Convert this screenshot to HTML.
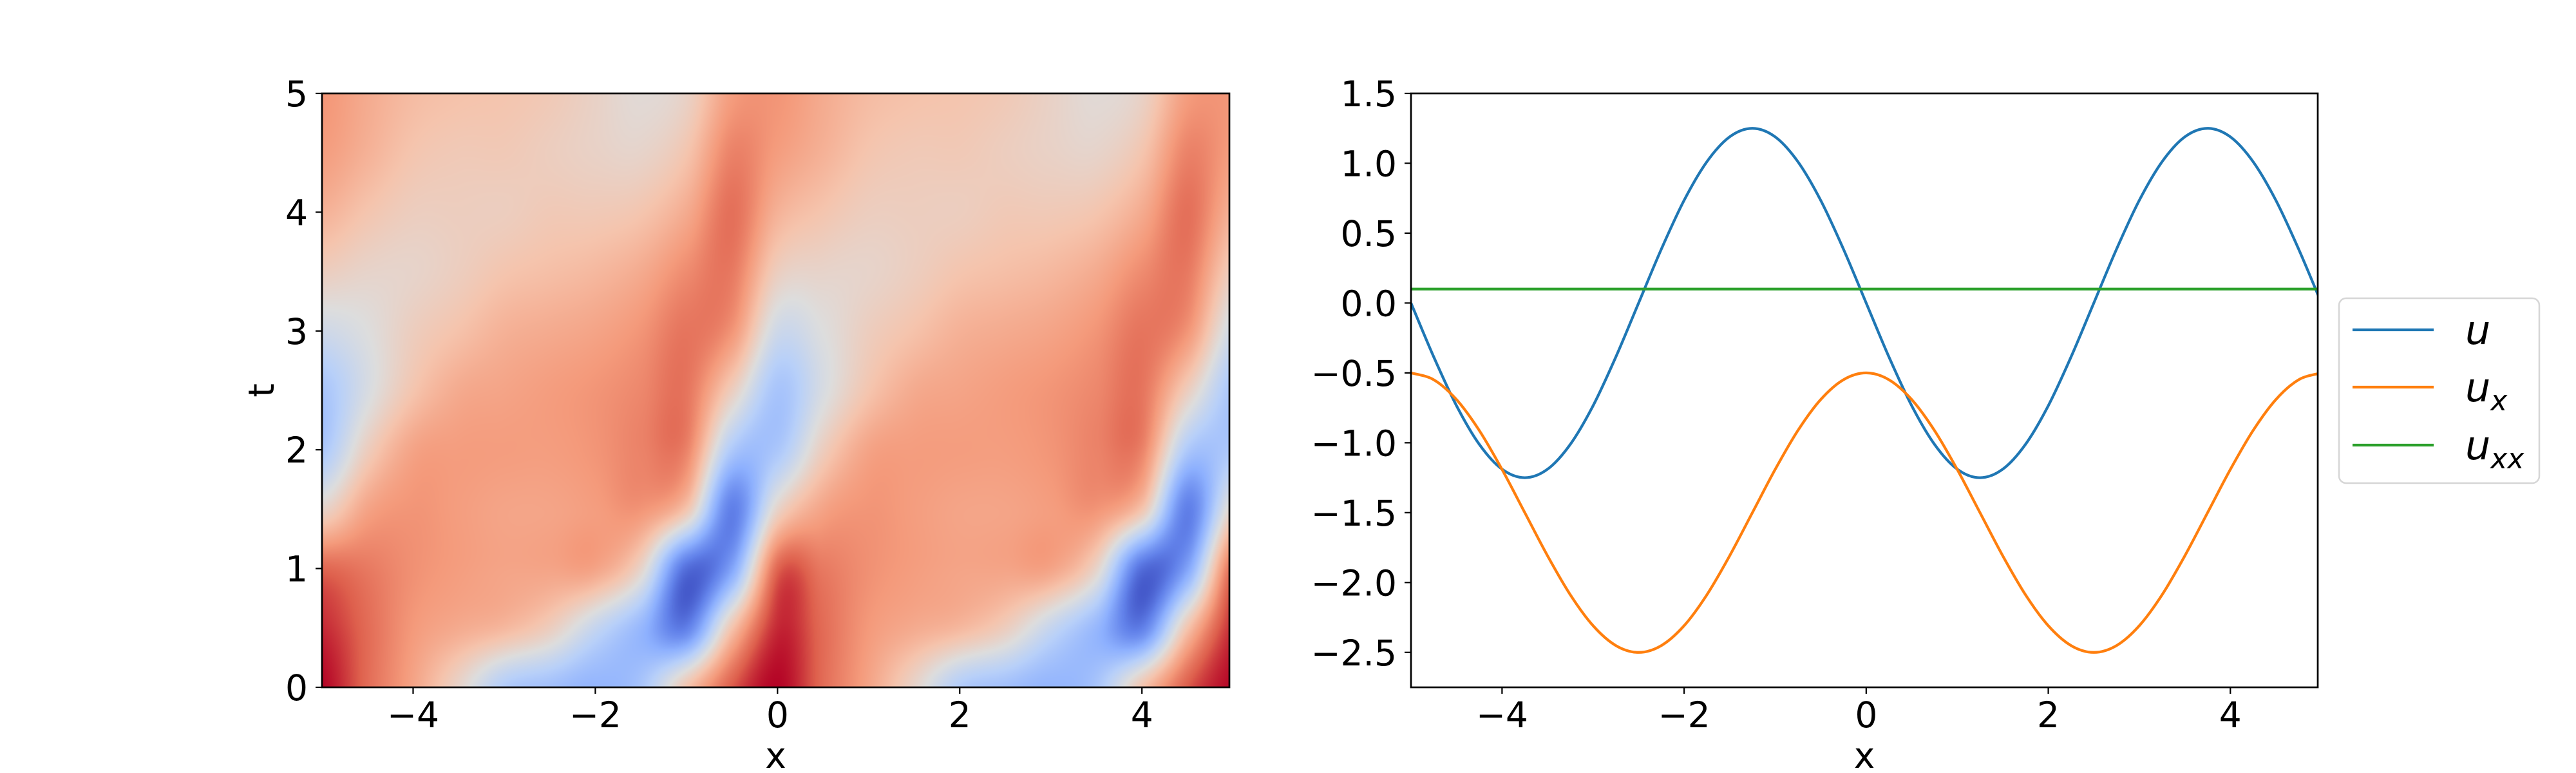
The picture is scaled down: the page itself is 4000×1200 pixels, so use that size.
<!DOCTYPE html>
<html><head><meta charset="utf-8"><style>
html,body{margin:0;padding:0;background:#fff;}
#wrap{position:relative;width:4000px;height:1200px;overflow:hidden;font-family:"DejaVu Sans","Liberation Sans",sans-serif;}
canvas{position:absolute;}
svg{position:absolute;left:0;top:0;}
</style></head><body>
<div id="wrap">
<canvas id="heat" width="1409" height="922" style="left:500px;top:145px"></canvas>
<svg id="svg" width="4000" height="1200"></svg>
</div>
<script>
// ---------- DATA ----------
const heatX = [-5,-4.5,-4,-3.5,-3,-2.5,-2,-1.5,-1,-0.5,0,0.5,1,1.5,2,2.5,3,3.5,4,4.5,5];
const heatT = [0,0.5,1,1.5,2,2.5,3,3.5,4,4.5,5];
const heatRow0  = [1.0,.85,.72,.55,.36,.31,.27,.33,.62,.88,1.0,.85,.72,.55,.36,.31,.27,.33,.62,.88,1.0];
const heatRow1  = [.95,.85,.75,.70,.66,.58,.42,.28,.12,.62,.95,.85,.75,.70,.66,.58,.42,.28,.12,.62,.95];
const heatRow2  = [.86,.82,.77,.74,.72,.72,.72,.55,.08,.22,.86,.82,.77,.74,.72,.72,.72,.55,.08,.22,.86];
const heatRow3  = [.55,.72,.76,.74,.72,.72,.74,.76,.62,.12,.55,.72,.76,.74,.72,.72,.74,.76,.62,.12,.55];
const heatRow4  = [.34,.58,.72,.74,.74,.74,.76,.80,.80,.35,.34,.58,.72,.74,.74,.74,.76,.80,.80,.35,.34];
const heatRow5  = [.33,.48,.62,.70,.72,.74,.76,.79,.83,.58,.33,.48,.62,.70,.72,.74,.76,.79,.83,.58,.33];
const heatRow6  = [.45,.50,.58,.63,.68,.70,.72,.76,.83,.76,.45,.50,.58,.63,.68,.70,.72,.76,.83,.76,.45];
const heatRow7  = [.58,.55,.55,.58,.62,.64,.66,.70,.78,.82,.58,.55,.55,.58,.62,.64,.66,.70,.78,.82,.58];
const heatRow8  = [.68,.62,.58,.58,.58,.60,.60,.62,.70,.84,.68,.62,.58,.58,.58,.60,.60,.62,.70,.84,.68];
const heatRow9  = [.74,.68,.62,.60,.60,.58,.56,.55,.62,.80,.74,.68,.62,.60,.60,.58,.56,.55,.62,.80,.74];
const heatRow10 = [.76,.70,.65,.63,.62,.60,.56,.52,.56,.74,.76,.70,.65,.63,.62,.60,.56,.52,.56,.74,.76];
const heatRows = [heatRow0,heatRow1,heatRow2,heatRow3,heatRow4,heatRow5,heatRow6,heatRow7,heatRow8,heatRow9,heatRow10];

const lineX = [-5,-4.75,-4.5,-4.25,-4,-3.75,-3.5,-3.25,-3,-2.75,-2.5,-2.25,-2,-1.75,-1.5,-1.25,-1,-0.75,-0.5,-0.25,0,0.25,0.5,0.75,1,1.25,1.5,1.75,2,2.25,2.5,2.75,3,3.25,3.5,3.75,4,4.25,4.5,4.75,5];
const seriesU = [0,-.386,-.735,-1.011,-1.189,-1.25,-1.189,-1.011,-.735,-.386,0,.386,.735,1.011,1.189,1.25,1.189,1.011,.735,.386,0,-.386,-.735,-1.011,-1.189,-1.25,-1.189,-1.011,-.735,-.386,0,.386,.735,1.011,1.189,1.25,1.189,1.011,.735,.386,0];
const seriesUx = [-.5,-.549,-.691,-.912,-1.191,-1.5,-1.809,-2.088,-2.309,-2.451,-2.5,-2.451,-2.309,-2.088,-1.809,-1.5,-1.191,-.912,-.691,-.549,-.5,-.549,-.691,-.912,-1.191,-1.5,-1.809,-2.088,-2.309,-2.451,-2.5,-2.451,-2.309,-2.088,-1.809,-1.5,-1.191,-.912,-.691,-.549,-.5];
const seriesUxx = [.1,.1,.1,.1,.1,.1,.1,.1,.1,.1,.1,.1,.1,.1,.1,.1,.1,.1,.1,.1,.1,.1,.1,.1,.1,.1,.1,.1,.1,.1,.1,.1,.1,.1,.1,.1,.1,.1,.1,.1,.1];

const leftXTicks = [-4,-2,0,2,4];
const leftXTickLabels = ["−4","−2","0","2","4"];
const leftYTicks = [0,1,2,3,4,5];
const leftYTickLabels = ["0","1","2","3","4","5"];
const rightXTicks = [-4,-2,0,2,4];
const rightXTickLabels = ["−4","−2","0","2","4"];
const rightYTicks = [1.5,1.0,0.5,0.0,-0.5,-1.0,-1.5,-2.0,-2.5];
const rightYTickLabels = ["1.5","1.0","0.5","0.0","−0.5","−1.0","−1.5","−2.0","−2.5"];

// ---------- LAYOUT ----------
const L = {x0:500,x1:1909,y0:145,y1:1067,xmin:-5,xmax:4.96,ymin:0,ymax:5};
const R = {x0:2191,x1:3599,y0:145,y1:1067,xmin:-5,xmax:4.96,ymin:-2.75,ymax:1.5};
function sx(a,v){return a.x0+(v-a.xmin)/(a.xmax-a.xmin)*(a.x1-a.x0);}
function sy(a,v){return a.y1-(v-a.ymin)/(a.ymax-a.ymin)*(a.y1-a.y0);}

// ---------- COLORMAP ----------
const cmStops=[[0,59,76,192],[.125,98,130,234],[.25,141,176,254],[.375,184,208,249],[.5,221,221,221],[.625,245,196,173],[.75,244,154,123],[.875,222,96,77],[1,180,4,38]];
function cmap(v){v=Math.max(0,Math.min(1,v));for(let i=1;i<cmStops.length;i++){if(v<=cmStops[i][0]){const a=cmStops[i-1],b=cmStops[i],f=(v-a[0])/(b[0]-a[0]);return [a[1]+f*(b[1]-a[1]),a[2]+f*(b[2]-a[2]),a[3]+f*(b[3]-a[3])];}}return cmStops[8].slice(1);}

// ---------- HEATMAP (bicubic) ----------
(function(){
const c=document.getElementById('heat'),ctx=c.getContext('2d');
const W=c.width,H=c.height,img=ctx.createImageData(W,H);
const nx=heatX.length,nt=heatT.length;
function g(j,i){j=Math.max(0,Math.min(nt-1,j));i=Math.max(0,Math.min(nx-1,i));return heatRows[j][i];}
function cr(p0,p1,p2,p3,f){return p1+0.5*f*(p2-p0+f*(2*p0-5*p1+4*p2-p3+f*(3*(p1-p2)+p3-p0)));}
const dx=heatX[1]-heatX[0],dt=heatT[1]-heatT[0];
for(let py=0;py<H;py++){
  const t=L.ymax-(py+0.5)/H*(L.ymax-L.ymin);
  let ft=(t-heatT[0])/dt;let j=Math.min(nt-2,Math.floor(ft));ft-=j;
  for(let px=0;px<W;px++){
    const x=L.xmin+(px+0.5)/W*(L.xmax-L.xmin);
    let fx=(x-heatX[0])/dx;let i=Math.min(nx-2,Math.floor(fx));fx-=i;
    const r=[];
    for(let m=-1;m<=2;m++)r.push(cr(g(j+m,i-1),g(j+m,i),g(j+m,i+1),g(j+m,i+2),fx));
    const v=cr(r[0],r[1],r[2],r[3],ft);
    const col=cmap(v),k=(py*W+px)*4;
    img.data[k]=col[0];img.data[k+1]=col[1];img.data[k+2]=col[2];img.data[k+3]=255;
  }
}
ctx.putImageData(img,0,0);
})();

// ---------- SVG ----------
const svg=document.getElementById('svg');const NS='http://www.w3.org/2000/svg';
function mk(tag,attrs,parent){const e=document.createElementNS(NS,tag);for(const k in attrs)e.setAttribute(k,attrs[k]);(parent||svg).appendChild(e);return e;}
const FONT='"DejaVu Sans","Liberation Sans",sans-serif';

const defs=mk('defs',{});
const cp=mk('clipPath',{id:'rclip'},defs);
mk('rect',{x:R.x0,y:R.y0,width:R.x1-R.x0,height:R.y1-R.y0},cp);

function pathFrom(xs,ys){
  const p=xs.map((x,i)=>[sx(R,x),sy(R,ys[i])]);
  let d='M'+p[0][0].toFixed(2)+','+p[0][1].toFixed(2);
  for(let i=0;i<p.length-1;i++){
    const p0=p[Math.max(0,i-1)],p1=p[i],p2=p[i+1],p3=p[Math.min(p.length-1,i+2)];
    const c1x=p1[0]+(p2[0]-p0[0])/6,c1y=p1[1]+(p2[1]-p0[1])/6;
    const c2x=p2[0]-(p3[0]-p1[0])/6,c2y=p2[1]-(p3[1]-p1[1])/6;
    d+=' C'+c1x.toFixed(2)+','+c1y.toFixed(2)+' '+c2x.toFixed(2)+','+c2y.toFixed(2)+' '+p2[0].toFixed(2)+','+p2[1].toFixed(2);
  }
  return d;
}
const gLines=mk('g',{'clip-path':'url(#rclip)'});


const series=[[seriesU,'#1f77b4','line-u'],[seriesUx,'#ff7f0e','line-ux'],[seriesUxx,'#2ca02c','line-uxx']];
series.forEach(s=>{
  const p=mk('path',{d:pathFrom(lineX,s[0]),fill:'none',stroke:s[1],'stroke-width':4.2,'stroke-linejoin':'round'},gLines);
  
  
});

function axes(a,xt,xtl,yt,ytl,prefix,xlab,ylab){
  const fr=mk('rect',{x:a.x0,y:a.y0,width:a.x1-a.x0,height:a.y1-a.y0,fill:'none',stroke:'#000','stroke-width':2.7});
  
  
  xt.forEach((v,i)=>{
    const x=sx(a,v);
    const tk=mk('line',{x1:x,x2:x,y1:a.y1,y2:a.y1+10,stroke:'#000','stroke-width':2.2});
    
    
    const t=mk('text',{x:x,y:a.y1+62,'text-anchor':'middle','font-size':55,'font-family':FONT});
    t.textContent=xtl[i];
    
    
  });
  yt.forEach((v,i)=>{
    const y=sy(a,v);
    const tk=mk('line',{x1:a.x0-10,x2:a.x0,y1:y,y2:y,stroke:'#000','stroke-width':2.2});
    
    
    const t=mk('text',{x:a.x0-22,y:y+20,'text-anchor':'end','font-size':55,'font-family':FONT});
    t.textContent=ytl[i];
    
    
  });
  const xl=mk('text',{x:(a.x0+a.x1)/2,y:1192,'text-anchor':'middle','font-size':55,'font-family':FONT});
  xl.textContent=xlab;
  
  
  if(ylab){
    const yl=mk('text',{x:0,y:0,'text-anchor':'middle','font-size':55,'font-family':FONT,transform:'translate(425,'+((a.y0+a.y1)/2)+') rotate(-90)'});
    yl.textContent=ylab;
    
    
  }
}
axes(L,leftXTicks,leftXTickLabels,leftYTicks,leftYTickLabels,'heatmap','x','t');
axes(R,rightXTicks,rightXTickLabels,rightYTicks,rightYTickLabels,'lineplot','x',null);

const lg=mk('g',{});


mk('rect',{x:3632,y:463,width:311,height:287,rx:11,fill:'#fff',stroke:'#d6d6d6','stroke-width':2.5},lg);
const legY=[512,601,691];
const legLab=[['u',''],['u','x'],['u','xx']];
series.forEach((s,i)=>{
  const ln=mk('line',{x1:3653,x2:3779,y1:legY[i],y2:legY[i],stroke:s[1],'stroke-width':4.2},lg);
  
  
  const t=mk('text',{x:3828,y:legY[i]+22,'font-size':62,'font-style':'italic','font-family':FONT},lg);
  
  
  const a=mk('tspan',{},t);a.textContent=legLab[i][0];
  if(legLab[i][1]){const b=mk('tspan',{'font-size':44,dy:14},t);b.textContent=legLab[i][1];}
});
</script>
</body></html>
